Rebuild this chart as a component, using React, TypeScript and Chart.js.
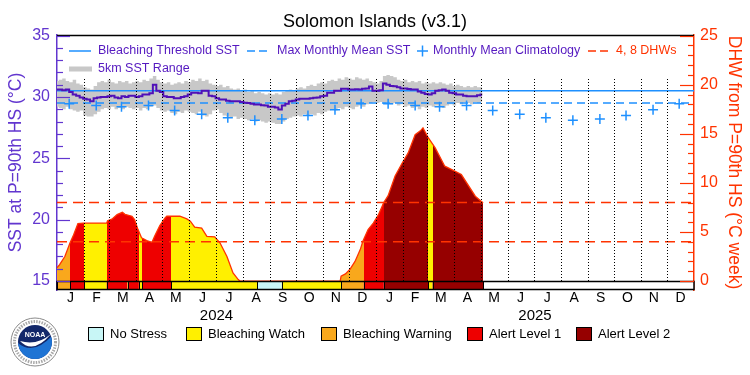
import React, { useEffect, useRef } from 'react';
import { Chart, registerables } from 'chart.js';

Chart.register(...registerables);

const FONT = "'Liberation Sans', Arial, sans-serif";

// ---------- axis structure ----------
const MONTH_START_DAYS = [0, 31, 60, 91, 121, 152, 182, 213, 244, 274, 305, 335, 366, 397, 425, 456, 486, 517, 547, 578, 609, 639, 670, 700, 731];
const MONTH_LABELS = ['J', 'F', 'M', 'A', 'M', 'J', 'J', 'A', 'S', 'O', 'N', 'D', 'J', 'F', 'M', 'A', 'M', 'J', 'J', 'A', 'S', 'O', 'N', 'D'];
const YEAR_START_DAYS = [0, 366, 731];
const YEAR_LABELS = ['2024', '2025'];
const LEFT_TICKS = [15, 20, 25, 30, 35];
const RIGHT_TICKS = [0, 5, 10, 15, 20, 25];
const Y_MIN = 14.27;
const Y_MAX = 35.05;

// ---------- reference values ----------
const BLEACHING_THRESHOLD = 30.5;
const MAX_MONTHLY_MEAN = 29.5;
const DHW_LEVELS = [4, 8];
const CLIM_MONTHLY = [29.45, 29.3, 29.2, 29.3, 28.9, 28.6, 28.3, 28.1, 28.2, 28.5, 28.95, 29.45];
const CLIM_DAY_IN_MONTH = 14;

// ---------- SST (every 4 days from 1 Jan 2024) ----------
const SAMPLE_STEP_DAYS = 4;
const SST = [
  30.6, 30.6, 30.55, 30.6, 30.4, 30.2, 30.1, 29.95, 29.85, 29.8,
  29.65, 29.9, 29.95, 30.0, 30.0, 30.05, 30.1, 29.95, 29.9, 30.05,
  30.0, 30.1, 30.1, 30.0, 30.05, 30.2, 30.2, 30.3, 31.0, 30.5,
  30.4, 30.05, 30.0, 30.0, 29.9, 29.9, 30.0, 30.05, 30.2, 30.34,
  30.34, 30.3, 30.5, 30.5, 30.1, 30.05, 29.9, 29.8, 29.8, 29.7,
  29.65, 29.65, 29.65, 29.6, 29.52, 29.5, 29.45, 29.38, 29.38, 29.33,
  29.3, 29.2, 29.2, 29.15, 28.98, 29.3, 29.45, 29.65, 29.7, 29.8,
  29.85, 29.85, 29.85, 29.9, 29.93, 29.95, 30.05, 30.1, 30.34, 30.34,
  30.5, 30.5, 30.66, 30.66, 30.6, 30.6, 30.62, 30.6, 30.66, 30.7,
  30.85, 30.5, 30.5, 30.55, 31.1, 31.0, 30.9, 30.88, 30.8, 30.7,
  30.7, 30.65, 30.6, 30.6, 30.45, 30.34, 30.25, 30.2, 30.3, 30.5,
  30.55, 30.6, 30.5, 30.34, 30.3, 30.2, 30.2, 30.1, 30.05, 30.05,
  30.05, 30.15, 30.2,
];
const SST_RANGE_HIGH = [
  31.3, 31.4, 31.5, 31.3, 31.2, 31.4, 31.1, 31.0, 30.8, 30.7,
  30.6, 30.9, 31.2, 31.3, 31.2, 31.4, 31.2, 31.1, 31.3, 31.2,
  31.3, 31.1, 31.2, 31.3, 31.2, 31.4, 31.3, 31.5, 31.7, 31.4,
  31.2, 31.1, 31.2, 31.0, 31.1, 31.2, 31.1, 31.3, 31.2, 31.4,
  31.3, 31.5, 31.3, 31.4, 31.1, 31.0, 30.9, 31.0, 30.8, 30.9,
  30.7, 30.6, 30.7, 30.5, 30.6, 30.4, 30.5, 30.3, 30.4, 30.3,
  30.2, 30.3, 30.2, 30.3, 30.2, 30.4, 30.5, 30.6, 30.5, 30.7,
  30.8, 30.7, 30.9, 31.0, 30.9, 31.1, 31.2, 31.1, 31.3, 31.4,
  31.3, 31.5, 31.4, 31.6, 31.5, 31.4, 31.6, 31.5, 31.4, 31.5,
  31.3, 31.2, 31.1, 31.3, 31.7, 31.8, 31.7, 31.6, 31.4, 31.3,
  31.4, 31.2, 31.3, 31.2, 31.3, 31.1, 31.2, 31.1, 31.2, 31.1,
  31.2, 31.1, 31.0, 31.1, 30.9, 31.0, 30.9, 30.8, 30.9, 30.8,
  30.9, 30.8, 30.8,
];
const SST_RANGE_LOW = [
  29.2, 29.1, 29.0, 29.2, 29.0, 28.9, 28.8, 28.9, 28.5, 28.4,
  28.4, 28.6, 28.8, 29.0, 29.1, 29.0, 29.2, 29.0, 29.1, 29.0,
  29.2, 29.1, 29.0, 29.1, 28.9, 29.1, 29.0, 29.2, 29.3, 29.1,
  28.9, 28.8, 28.9, 28.7, 28.6, 28.8, 28.7, 28.9, 28.8, 28.7,
  28.6, 28.8, 28.5, 28.4, 28.6, 28.9, 29.0, 28.7, 28.5, 28.4,
  28.3, 28.4, 28.2, 28.3, 28.2, 28.1, 28.2, 28.0, 28.1, 28.0,
  27.9, 28.0, 27.9, 27.8, 27.8, 28.0, 28.2, 28.3, 28.4, 28.5,
  28.4, 28.6, 28.5, 28.6, 28.5, 28.7, 28.6, 28.8, 28.9, 29.0,
  28.9, 29.1, 29.0, 29.2, 29.1, 29.0, 29.2, 29.3, 29.2, 29.4,
  29.5, 29.6, 29.5, 29.6, 29.5, 29.6, 29.4, 29.5, 29.3, 29.4,
  29.2, 29.3, 29.1, 29.2, 29.0, 29.2, 29.1, 29.3, 29.2, 29.3,
  29.2, 29.1, 29.3, 29.4, 29.3, 29.5, 29.4, 29.6, 29.5, 29.4,
  29.6, 29.5, 29.6,
];

// ---------- DHW ----------
const DHW_DAYS = [0, 3, 9, 15, 19, 24, 30, 57, 58, 63, 69, 75, 78, 86, 89, 93, 97, 103, 109, 112, 118, 124, 126, 141, 149, 153, 158, 166, 172, 181, 187, 195, 202, 208, 210, 325, 326, 331, 336, 342, 348, 351, 357, 363, 369, 375, 380, 388, 396, 403, 411, 417, 420, 426, 434, 445, 453, 464, 480, 489];
const DHW = [1.35, 1.68, 2.5, 3.9, 4.7, 5.85, 5.9, 5.9, 6.15, 6.3, 6.77, 7.0, 6.8, 6.6, 6.26, 5.24, 4.4, 4.12, 3.95, 4.56, 5.65, 6.43, 6.6, 6.6, 6.33, 6.1, 5.5, 5.4, 4.56, 4.5, 3.9, 2.5, 0.83, 0.15, 0, 0, 0.5, 0.73, 1.17, 2.0, 3.2, 4.05, 5.24, 5.9, 6.77, 8.0, 8.7, 10.7, 12.0, 13.05, 14.9, 15.3, 15.6, 14.6, 13.56, 11.7, 11.35, 10.85, 8.64, 7.96];

// ---------- stress status ----------
const STATUS_NAMES = ['No Stress', 'Bleaching Watch', 'Bleaching Warning', 'Alert Level 1', 'Alert Level 2'];
const STATUS_COLORS = ['#c8f6f6', '#fff000', '#f9a81c', '#ee0000', '#960000'];
const STATUS_START = [0, 15, 31, 57, 81, 82, 94, 98, 131, 230, 258, 326, 352, 375, 426, 431];
const STATUS_END = [15, 31, 57, 81, 82, 94, 98, 131, 230, 258, 326, 352, 375, 426, 431, 489];
const STATUS_LEVEL = [2, 3, 1, 3, 1, 3, 1, 3, 1, 0, 1, 2, 3, 4, 1, 4];

// ---------- styles ----------
const AXIS_PURPLE = '#6236cf';
const TEXT_PURPLE = '#5519c0';
const SST_PURPLE = '#5010b8';
const BLUE = '#1e90ff';
const ORANGE_RED = '#ff3300';
const BAND_GRAY = '#c8c8c8';
const GRID_TOP_SST = 31.5;
const BAR_TOP_SST = 15;

const dhwGradient = (ctx: any) => {
  const chart = ctx.chart;
  const xs = chart.scales?.x;
  if (!chart.chartArea || !xs) return STATUS_COLORS[3];
  const g = chart.ctx.createLinearGradient(xs.left, 0, xs.right, 0);
  const w = xs.right - xs.left;
  const clamp = (v: number) => Math.min(1, Math.max(0, v));
  STATUS_START.forEach((s, i) => {
    const col = STATUS_COLORS[STATUS_LEVEL[i]];
    g.addColorStop(clamp((xs.getPixelForValue(s) - xs.left) / w), col);
    g.addColorStop(clamp((xs.getPixelForValue(STATUS_END[i]) - xs.left) / w), col);
  });
  return g;
};

const line = (c: any, x0: number, y0: number, x1: number, y1: number) => {
  c.beginPath();
  c.moveTo(x0, y0);
  c.lineTo(x1, y1);
  c.stroke();
};

const overlayPlugin = {
  id: 'overlay',
  afterDatasetsDraw(chart: any) {
    const c = chart.ctx;
    const xs = chart.scales.x;
    const ys = chart.scales.y;
    const { left, right, top, bottom } = chart.chartArea;
    c.save();
    // dotted month boundaries
    c.strokeStyle = '#000';
    c.lineWidth = 1;
    c.setLineDash([1, 2]);
    const gy0 = Math.round(ys.getPixelForValue(GRID_TOP_SST));
    const gy1 = ys.getPixelForValue(BAR_TOP_SST);
    for (const d of MONTH_START_DAYS) {
      if (d <= xs.min || d >= xs.max) continue;
      const x = Math.round(xs.getPixelForValue(d)) + 0.5;
      line(c, x, gy0, x, gy1);
    }
    c.setLineDash([]);
    // status bar
    const by0 = Math.round(ys.getPixelForValue(BAR_TOP_SST)) + 0.5;
    const by1 = Math.round(bottom) - 0.5;
    c.fillStyle = '#fff';
    c.fillRect(left, by0, right - left, by1 - by0);
    STATUS_START.forEach((s, i) => {
      const x0 = xs.getPixelForValue(s);
      const x1 = xs.getPixelForValue(STATUS_END[i]);
      c.fillStyle = STATUS_COLORS[STATUS_LEVEL[i]];
      c.fillRect(x0, by0, x1 - x0, by1 - by0);
    });
    c.strokeStyle = '#000';
    c.lineWidth = 1;
    STATUS_START.forEach((s, i) => {
      const x0 = Math.round(xs.getPixelForValue(s)) + 0.5;
      const x1 = Math.round(xs.getPixelForValue(STATUS_END[i])) + 0.5;
      c.strokeRect(x0, by0, x1 - x0, by1 - by0);
    });
    c.lineWidth = 1.5;
    c.strokeRect(left, by0, right - left, by1 - by0);
    // top frame
    line(c, left, top + 0.5, right, top + 0.5);
    c.restore();
  },
  afterDraw(chart: any) {
    const c = chart.ctx;
    const yl = chart.scales.y;
    const yr = chart.scales.y2;
    const { left, right } = chart.chartArea;
    c.save();
    // inward ticks
    c.lineWidth = 1.2;
    c.strokeStyle = AXIS_PURPLE;
    for (let v = LEFT_TICKS[0]; v <= LEFT_TICKS[LEFT_TICKS.length - 1]; v++) {
      const y = Math.round(yl.getPixelForValue(v)) + 0.5;
      line(c, left, y, left + (v % 5 === 0 ? 13 : 6), y);
    }
    c.strokeStyle = ORANGE_RED;
    for (let v = RIGHT_TICKS[0]; v <= RIGHT_TICKS[RIGHT_TICKS.length - 1]; v++) {
      const y = Math.round(yr.getPixelForValue(v)) + 0.5;
      line(c, right, y, right - (v % 5 === 0 ? 14 : 6), y);
    }

    // top legend
    c.font = `12.5px ${FONT}`;
    c.textBaseline = 'middle';
    c.textAlign = 'left';
    const r1 = 51;
    const r2 = 69;
    c.strokeStyle = BLUE;
    c.lineWidth = 1.5;
    line(c, 69, r1, 91, r1);
    c.fillStyle = TEXT_PURPLE;
    c.fillText('Bleaching Threshold SST', 98, r1);
    c.setLineDash([8, 4]);
    line(c, 247, r1, 268, r1);
    c.setLineDash([]);
    c.fillText('Max Monthly Mean SST', 277, r1);
    line(c, 417, r1, 428, r1);
    line(c, 422.5, r1 - 5.5, 422.5, r1 + 5.5);
    c.fillText('Monthly Mean Climatology', 433, r1);
    c.strokeStyle = ORANGE_RED;
    c.setLineDash([8, 4]);
    line(c, 588, r1, 609, r1);
    c.setLineDash([]);
    c.fillStyle = ORANGE_RED;
    c.fillText('4, 8 DHWs', 616, r1);
    c.fillStyle = BAND_GRAY;
    c.fillRect(69, r2 - 2.5, 23, 5);
    c.fillStyle = TEXT_PURPLE;
    c.fillText('5km SST Range', 98, r2);

    // bottom legend
    const bx = [88, 186, 321, 467, 576];
    c.font = `13px ${FONT}`;
    STATUS_NAMES.forEach((name, i) => {
      c.fillStyle = STATUS_COLORS[i];
      c.fillRect(bx[i], 327, 15, 13);
      c.strokeStyle = '#000';
      c.lineWidth = 1;
      c.strokeRect(bx[i] + 0.5, 327.5, 15, 13);
      c.fillStyle = '#000';
      c.fillText(name, bx[i] + 22, 334.5);
    });

    // NOAA logo
    const cx = 35;
    const cy = 342;
    c.beginPath();
    c.arc(cx, cy, 24, 0, Math.PI * 2);
    c.fillStyle = '#fff';
    c.fill();
    c.strokeStyle = '#8a8a8a';
    c.lineWidth = 1;
    c.stroke();
    c.setLineDash([1.5, 1.2]);
    c.strokeStyle = '#a8a8a8';
    c.lineWidth = 3;
    c.beginPath();
    c.arc(cx, cy, 20.5, 0, Math.PI * 2);
    c.stroke();
    c.setLineDash([]);
    c.beginPath();
    c.arc(cx, cy, 17, 0, Math.PI * 2);
    c.fillStyle = '#13286a';
    c.fill();
    c.save();
    c.beginPath();
    c.arc(cx, cy, 17, 0, Math.PI * 2);
    c.clip();
    c.beginPath();
    c.moveTo(cx - 17, cy + 1);
    c.quadraticCurveTo(cx - 2, cy + 14, cx + 17, cy - 6);
    c.lineTo(cx + 17, cy + 17);
    c.lineTo(cx - 17, cy + 17);
    c.closePath();
    c.fillStyle = '#1f74d4';
    c.fill();
    c.beginPath();
    c.moveTo(cx - 15, cy - 1);
    c.quadraticCurveTo(cx - 2, cy + 13, cx + 16, cy - 8);
    c.quadraticCurveTo(cx + 2, cy + 4, cx - 15, cy - 1);
    c.closePath();
    c.fillStyle = '#fff';
    c.fill();
    c.restore();
    c.fillStyle = '#fff';
    c.font = `bold 7px ${FONT}`;
    c.textAlign = 'center';
    c.fillText('NOAA', cx, cy - 7);
    c.restore();
  },
};

export default function App() {
  const ref = useRef<HTMLCanvasElement>(null);

  useEffect(() => {
    document.body.style.margin = '0';
    const sstPts = SST.map((v, i) => ({ x: i * SAMPLE_STEP_DAYS, y: v }));
    const hiPts = SST_RANGE_HIGH.map((v, i) => ({ x: i * SAMPLE_STEP_DAYS, y: v }));
    const loPts = SST_RANGE_LOW.map((v, i) => ({ x: i * SAMPLE_STEP_DAYS, y: v }));
    const dhwPts = DHW.map((v, i) => ({ x: DHW_DAYS[i], y: v }));
    const climPts = MONTH_LABELS.map((_, i) => ({ x: MONTH_START_DAYS[i] + CLIM_DAY_IN_MONTH, y: CLIM_MONTHLY[i % 12] }));
    const xMax = MONTH_START_DAYS[MONTH_START_DAYS.length - 1];
    const flat = (v: number) => [{ x: 0, y: v }, { x: xMax, y: v }];

    const chart = new Chart(ref.current as HTMLCanvasElement, {
      type: 'line',
      data: {
        datasets: [
          { label: 'clim', data: climPts, showLine: false, pointStyle: 'cross', pointRadius: 5, borderColor: BLUE, backgroundColor: BLUE, pointBorderWidth: 1.5, order: 0 },
          { label: 'sst', data: sstPts, borderColor: SST_PURPLE, borderWidth: 2, pointRadius: 0, stepped: 'middle', fill: false, order: 1 },
          { label: 'thr', data: flat(BLEACHING_THRESHOLD), borderColor: BLUE, borderWidth: 1.5, pointRadius: 0, fill: false, order: 2 },
          { label: 'mmm', data: flat(MAX_MONTHLY_MEAN), borderColor: BLUE, borderWidth: 1.5, borderDash: [8, 5], pointRadius: 0, fill: false, order: 3 },
          ...DHW_LEVELS.map((lv) => ({ label: 'dhw' + lv, data: flat(lv), yAxisID: 'y2', borderColor: ORANGE_RED, borderWidth: 1.3, borderDash: [10, 6], pointRadius: 0, fill: false, order: 4 })),
          { label: 'dhw', data: dhwPts, yAxisID: 'y2', borderColor: ORANGE_RED, borderWidth: 1.3, pointRadius: 0, fill: 'origin', backgroundColor: dhwGradient, order: 5 },
          { label: 'hi', data: hiPts, borderWidth: 0, borderColor: 'rgba(0,0,0,0)', backgroundColor: BAND_GRAY, pointRadius: 0, stepped: 'middle', fill: '+1', order: 6 },
          { label: 'lo', data: loPts, borderWidth: 0, borderColor: 'rgba(0,0,0,0)', pointRadius: 0, stepped: 'middle', fill: false, order: 7 },
        ] as any,
      },
      options: {
        responsive: false,
        animation: false,
        devicePixelRatio: 1,
        events: [],
        layout: { padding: { left: 0, right: 0, top: 0, bottom: 47 } },
        plugins: {
          legend: { display: false },
          tooltip: { enabled: false },
          title: {
            display: true,
            text: 'Solomon Islands (v3.1)',
            color: '#000',
            font: { family: FONT, size: 18, weight: 'normal', lineHeight: 1.2 },
            padding: { top: 11, bottom: 2.4 },
          },
        },
        scales: {
          x: {
            type: 'linear',
            position: 'bottom',
            min: 0,
            max: xMax,
            weight: 0,
            grid: { display: false, drawTicks: false },
            border: { display: false },
            afterBuildTicks: (s: any) => {
              s.ticks = MONTH_LABELS.map((_, i) => ({ value: (MONTH_START_DAYS[i] + MONTH_START_DAYS[i + 1]) / 2 }));
            },
            ticks: {
              autoSkip: false, maxRotation: 0, minRotation: 0, padding: 0, color: '#000',
              font: { family: FONT, size: 14 },
              callback: (_v: any, i: number) => MONTH_LABELS[i],
            },
            afterFit: (s: any) => { s.height = 17; },
          },
          xYear: {
            type: 'linear',
            position: 'bottom',
            min: 0,
            max: xMax,
            weight: 1,
            grid: { display: false, drawTicks: false },
            border: { display: false },
            afterBuildTicks: (s: any) => {
              s.ticks = YEAR_LABELS.map((_, i) => ({ value: (YEAR_START_DAYS[i] + YEAR_START_DAYS[i + 1]) / 2 }));
            },
            ticks: {
              autoSkip: false, maxRotation: 0, minRotation: 0, padding: 0, color: '#000',
              font: { family: FONT, size: 15 },
              callback: (_v: any, i: number) => YEAR_LABELS[i],
            },
            afterFit: (s: any) => { s.height = 21; },
          },
          y: {
            type: 'linear',
            position: 'left',
            min: Y_MIN,
            max: Y_MAX,
            z: 1,
            afterBuildTicks: (s: any) => { s.ticks = LEFT_TICKS.map((v) => ({ value: v })); },
            grid: { display: false, drawTicks: false },
            border: { display: true, color: AXIS_PURPLE, width: 1.5 },
            ticks: { color: AXIS_PURPLE, padding: 7, font: { family: FONT, size: 16 } },
            title: { display: true, text: 'SST at P=90th HS (°C)', color: AXIS_PURPLE, font: { family: FONT, size: 17.5 }, padding: { top: 6, bottom: 0 } },
            afterFit: (s: any) => { s.width = 57; },
          },
          y2: {
            type: 'linear',
            position: 'right',
            min: (Y_MIN - 15) * 1.25,
            max: (Y_MAX - 15) * 1.25,
            z: 1,
            afterBuildTicks: (s: any) => { s.ticks = RIGHT_TICKS.map((v) => ({ value: v })); },
            grid: { display: false, drawTicks: false },
            border: { display: true, color: ORANGE_RED, width: 1.5 },
            ticks: { color: ORANGE_RED, padding: 6, font: { family: FONT, size: 16 } },
            title: { display: true, text: 'DHW from P=90th HS (°C week)', color: ORANGE_RED, font: { family: FONT, size: 17.5 }, padding: { top: 6, bottom: 0 } },
            afterFit: (s: any) => { s.width = 56; },
          },
        },
      } as any,
      plugins: [overlayPlugin],
    });
    return () => chart.destroy();
  }, []);

  return (
    <div style={{ position: 'fixed', left: 0, top: 0, width: 750, height: 375, background: '#fff' }}>
      <canvas ref={ref} width={750} height={375} style={{ width: 750, height: 375, display: 'block' }} />
    </div>
  );
}
